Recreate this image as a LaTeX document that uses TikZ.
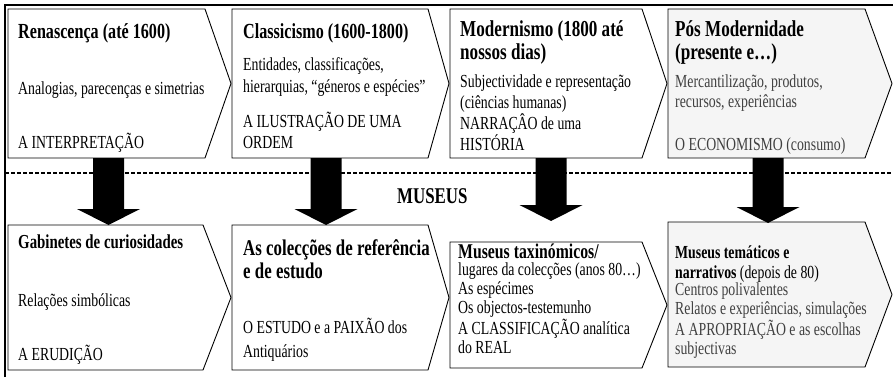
\documentclass[tikz,border=0pt]{standalone}
\usepackage{fontspec}
\setmainfont{Liberation Serif}[FakeStretch=0.75]
\usetikzlibrary{calc}

\tikzset{
	box/.style={draw=black, line width=0.9pt, fill=white},
	lastbox/.style={box, fill=black!4},
	txt/.style={anchor=base west, inner sep=0pt, align=left},
	body/.style={txt, font=\fontsize{18.4}{21}\selectfont},
	ttlA/.style={txt, font=\fontsize{21.5}{23}\selectfont\bfseries},
	ttlB/.style={txt, font=\fontsize{22.8}{23}\selectfont\bfseries},
	blockarrow/.style={to path={
		($(\tikztostart)+(-15.5,0)$) -- ($(\tikztostart)+(15.5,0)$)
		-- ($(\tikztotarget)+(15.5,-16)$) -- ($(\tikztotarget)+(31.5,-16)$)
		-- (\tikztotarget) -- ($(\tikztotarget)+(-31.5,-16)$)
		-- ($(\tikztotarget)+(-15.5,-16)$) -- cycle}}
}

\begin{document}
\begin{tikzpicture}[x=1pt, y=-1pt] % 893 x 377
		\useasboundingbox (0,0) rectangle (893,377);

		% frame and separation line
		\draw[line width=2pt] (5,377) -- (5,5) -- (893,5);
		\draw[line width=1.5pt, dash pattern=on 4pt off 2pt] (5,173) -- (893,173);

		% top row
		\filldraw[box] (8,9) -- (205,9) -- (231,83.5) -- (205,158) -- (8,158) -- cycle;
		\filldraw[box] (232,9) -- (428,9) -- (449,83.5) -- (428,158) -- (232,158) -- cycle;
		\filldraw[box] (450,9) -- (642,9) -- (667,83.5) -- (642,158) -- (450,158) -- cycle;
		\filldraw[lastbox] (668,9) -- (865,9) -- (892,83.5) -- (865,158) -- (668,158) -- cycle;

		% bottom row
		\filldraw[box] (8,225) -- (203,225) -- (231,297.5) -- (203,370) -- (8,370) -- cycle;
		\filldraw[box] (232,225) -- (428,225) -- (449,297.5) -- (428,370) -- (232,370) -- cycle;
		\filldraw[box] (450,242) -- (642,242) -- (667,305) -- (642,368) -- (450,368) -- cycle;
		\filldraw[lastbox] (668,222) -- (865,222) -- (892,294.5) -- (865,367) -- (668,367) -- cycle;

		\coordinate (ren) at (108.5,158);
		\coordinate (gab) at (108.5,225);
		\coordinate (cla) at (326,158);
		\coordinate (col) at (326,225);
		\coordinate (mod) at (551,158);
		\coordinate (tax) at (551,221);
		\coordinate (pos) at (768,158);
		\coordinate (tem) at (768,223);

		\fill (ren) to[blockarrow] (gab);
		\fill (cla) to[blockarrow] (col);
		\fill (mod) to[blockarrow] (tax);
		\fill (pos) to[blockarrow] (tem);

		\node[txt, font=\fontsize{22.5}{24}\selectfont\bfseries] (mus) at (397,203) {MUSEUS};

		% texts, placed by the baseline of their last line
		\node[ttlA] (renT) at (18,39) {Renascença (até 1600)};
		\node[body] (renB) at (18,95) {Analogias, parecenças e simetrias};
		\node[body] (renE) at (18,148) {A INTERPRETAÇÃO};

		\node[ttlA] (claT) at (243,39) {Classicismo (1600-1800)};
		\node[body, font=\fontsize{18.4}{22}\selectfont] (claB) at (243,93) {Entidades, classificações,\\hierarquias, “géneros e espécies”};
		\node[body] (claE) at (243,148) {A ILUSTRAÇÃO DE UMA\\ORDEM};

		\node[ttlB] (modT) at (460,60) {Modernismo (1800 até\\nossos dias)};
		\node[body] (modB) at (460,150) {Subjectividade e representação\\(ciências humanas)\\NARRAÇÂO de uma\\HISTÓRIA};

		\node[ttlB] (posT) at (675,60) {Pós Modernidade\\(presente e…)};
		\node[body, font=\fontsize{18.4}{20}\selectfont, text=black!75] (posB) at (675,107) {Mercantilização, produtos,\\recursos, experiências};
		\node[body, text=black!75] (posE) at (675,150) {O ECONOMISMO (consumo)};

		\node[txt, font=\fontsize{19.8}{22}\selectfont\bfseries] (gabT) at (18,248) {Gabinetes de curiosidades};
		\node[body] (gabB) at (18,306) {Relações simbólicas};
		\node[body] (gabE) at (18,360) {A ERUDIÇÃO};

		\node[txt, font=\fontsize{22.5}{23}\selectfont\bfseries] (colT) at (243,278) {As colecções de referência\\e de estudo};
		\node[body, font=\fontsize{18.4}{24}\selectfont] (colE) at (243,357) {O ESTUDO e a PAIXÃO dos\\Antiquários};

		\node[txt, font=\fontsize{21}{23}\selectfont\bfseries] (taxT) at (458,258) {Museus taxinómicos/};
		\node[body, font=\fontsize{18.4}{19}\selectfont] (taxB) at (458,353) {lugares da colecções (anos 80…)\\As espécimes\\Os objectos-testemunho\\A CLASSIFICAÇÃO analítica\\do REAL};

		\node[txt, font=\fontsize{18.4}{19.5}\selectfont] (temT) at (675,278) {\textbf{Museus temáticos e}\\\textbf{narrativos} (depois de 80)};
		\node[body, font=\fontsize{18.4}{19}\selectfont, text=black!75] (temB) at (675,354) {Centros polivalentes\\Relatos e experiências, simulações\\A APROPRIAÇÃO e as escolhas\\subjectivas};
\end{tikzpicture}
\end{document}
